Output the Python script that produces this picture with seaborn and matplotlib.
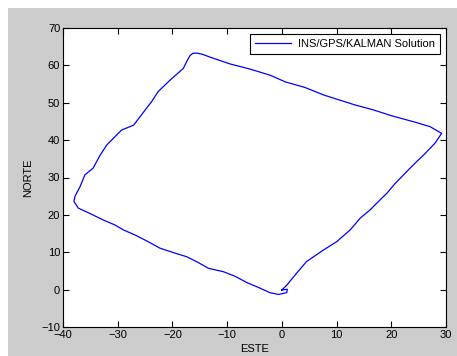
import numpy as np
import pandas as pd
import matplotlib
matplotlib.use('Agg')
import matplotlib.pyplot as plt
import seaborn as sns
from matplotlib.patches import Rectangle

# trayectoria (ESTE, NORTE)
este = [0.0, 0.9, 2.7, 4.5, 7.6, 10.0, 12.5, 14.3, 16.1, 17.6, 19.2, 20.7, 21.9,
        23.1, 24.6, 25.9, 28.0, 29.2,
        27.1, 24.6, 20.1, 16.7, 13.4, 10.6, 7.6, 4.2, 0.6, -2.2, -5.8, -9.5,
        -13.1, -14.6, -15.6, -16.3, -16.8, -17.4, -18.0, -20.4, -22.6, -23.8, -25.9,
        -27.1, -29.3, -32.0, -33.2, -34.5, -36.0, -36.9, -37.8, -38.0,
        -37.2, -35.1, -32.6, -30.5, -29.0, -26.8, -24.4, -22.3, -19.8, -17.4,
        -15.6, -13.4, -10.7, -8.6, -6.4, -4.0, -2.2, -0.6, 0.9, 1.0, 0.0]
norte = [-0.1, 1.2, 4.4, 7.5, 10.6, 12.8, 16.0, 19.1, 21.3, 23.5, 25.8, 28.4, 30.2,
         32.0, 34.2, 36.0, 39.2, 41.8,
         43.6, 44.7, 46.5, 48.1, 49.4, 50.7, 52.1, 54.1, 55.6, 57.4, 59.0, 60.4,
         62.2, 63.0, 63.3, 63.2, 62.6, 61.0, 59.2, 56.1, 53.0, 50.3, 46.3,
         44.0, 42.7, 38.7, 36.0, 32.5, 30.7, 27.5, 25.0, 23.6,
         21.8, 20.4, 18.6, 17.3, 16.0, 14.6, 12.8, 11.1, 9.9, 8.8,
         7.5, 5.7, 4.8, 3.6, 1.9, 0.4, -0.8, -1.3, -0.8, 0.1, -0.1]

df = pd.DataFrame({'ESTE': este, 'NORTE': norte})

plt.rcParams['font.family'] = ['Liberation Sans', 'DejaVu Sans']
plt.rcParams['font.size'] = 8

fig = plt.figure(figsize=(4.57, 3.56), dpi=100, facecolor='white')
fig.patches.append(Rectangle((8 / 457, 0), 1, 1 - 8 / 356, transform=fig.transFigure,
                             facecolor='#cccccc', edgecolor='none', zorder=-10))
ax = fig.add_axes([63 / 457, 1 - 327 / 356, 383 / 457, 299 / 356])

sns.lineplot(data=df, x='ESTE', y='NORTE', sort=False, estimator=None, ax=ax,
             color='#0000ff', linewidth=0.9, label='INS/GPS/KALMAN Solution')

ax.set_xlim(-40, 30)
ax.set_ylim(-10, 70)
ax.set_xticks(np.arange(-40, 31, 10))
ax.set_yticks(np.arange(-10, 71, 10))
ax.tick_params(direction='in', length=4, width=0.8, top=True, right=True, pad=2,
               labelsize=8, colors='black')
for s in ax.spines.values():
    s.set_linewidth(0.8)
ax.set_xlabel('ESTE', labelpad=3)
ax.set_ylabel('NORTE', labelpad=6)

leg = ax.legend(loc='upper right', fancybox=False, edgecolor='black', framealpha=1,
                handlelength=3.3, handletextpad=0.6, borderaxespad=0.55,
                fontsize=8, borderpad=0.45)
leg.get_frame().set_linewidth(0.8)

fig.savefig('out.png', dpi=100, facecolor='white')
